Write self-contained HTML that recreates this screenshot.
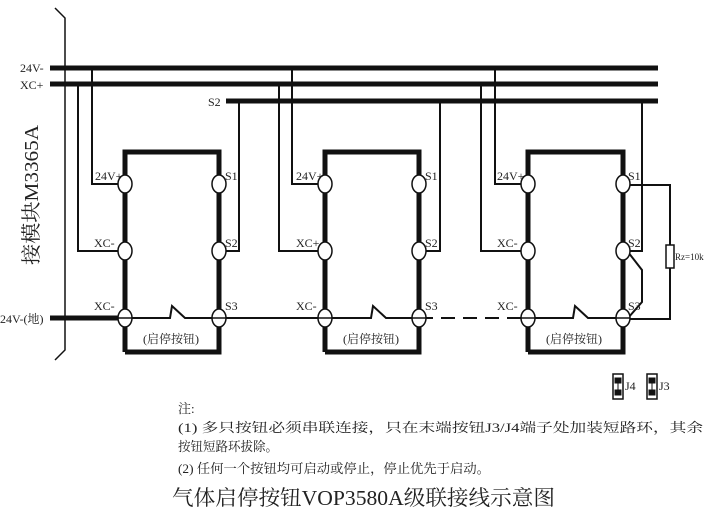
<!DOCTYPE html><html><head><meta charset="utf-8"><style>body{margin:0;background:#fff}svg{display:block}text{font-family:"Liberation Serif","Noto Serif CJK SC",serif;fill:#222}</style></head><body>
<svg width="724" height="531" viewBox="0 0 724 531" xmlns="http://www.w3.org/2000/svg">
<g stroke="#111" fill="none">
<path d="M55 8 L65 18 L65 350 L55 360" stroke-width="1.5"/>
<line x1="50" y1="68" x2="658" y2="68" stroke-width="5"/>
<line x1="50" y1="84" x2="658" y2="84" stroke-width="5"/>
<line x1="226" y1="101" x2="658" y2="101" stroke-width="5"/>
<line x1="50" y1="318" x2="125" y2="318" stroke-width="5"/>
<g stroke-width="2">
<path d="M92 68 V184 H125 M78 84 V251 H125 M239 101 V251 H219"/>
<path d="M292 68 V184 H325 M279 84 V251 H325 M440 101 V251 H419"/>
<path d="M495 68 V184 H528 M481 84 V251 H528 M642 101 V251 H623"/>
<path d="M125 318 H170 L172 306 L185 318 H325 H371 L373 306 L386 318 H419"/>
<path d="M528 318 H573 L575 306 L588 318 H623"/>
<path d="M419 318 H528" stroke-dasharray="14 8"/>
<path d="M623 185 H670 V245 M670 268 V319 H623"/>
<path d="M628 252 L642 270 V302 L628 318"/>
</g>
<rect x="666" y="245" width="8" height="23" stroke-width="1.5" fill="#fff"/>
<g stroke-width="5">
<path d="M125 352 V152 H219 V352 H125"/>
<path d="M325 352 V152 H419 V352 H325"/>
<path d="M528 352 V152 H623 V352 H528"/>
</g>
<g fill="#fff" stroke-width="1.5">
<ellipse cx="125" cy="184" rx="7" ry="9"/><ellipse cx="125" cy="251" rx="7" ry="9"/><ellipse cx="125" cy="318" rx="7" ry="9"/>
<ellipse cx="219" cy="184" rx="7" ry="9"/><ellipse cx="219" cy="251" rx="7" ry="9"/><ellipse cx="219" cy="318" rx="7" ry="9"/>
<ellipse cx="325" cy="184" rx="7" ry="9"/><ellipse cx="325" cy="251" rx="7" ry="9"/><ellipse cx="325" cy="318" rx="7" ry="9"/>
<ellipse cx="419" cy="184" rx="7" ry="9"/><ellipse cx="419" cy="251" rx="7" ry="9"/><ellipse cx="419" cy="318" rx="7" ry="9"/>
<ellipse cx="528" cy="184" rx="7" ry="9"/><ellipse cx="528" cy="251" rx="7" ry="9"/><ellipse cx="528" cy="318" rx="7" ry="9"/>
<ellipse cx="623" cy="184" rx="7" ry="9"/><ellipse cx="623" cy="251" rx="7" ry="9"/><ellipse cx="623" cy="318" rx="7" ry="9"/>
</g>
<g stroke-width="1.5"><line x1="118" y1="318" x2="132" y2="318"/><line x1="212" y1="318" x2="226" y2="318"/><line x1="318" y1="318" x2="332" y2="318"/><line x1="412" y1="318" x2="426" y2="318"/><line x1="521" y1="318" x2="535" y2="318"/><line x1="616" y1="318" x2="630" y2="318"/></g>
<rect x="613" y="374" width="10" height="25" stroke-width="1.5"/>
<rect x="615" y="378" width="6" height="5" fill="#111"/><rect x="615" y="390" width="6" height="5" fill="#111"/><line x1="618" y1="383" x2="618" y2="390"/>
<rect x="647" y="374" width="10" height="25" stroke-width="1.5"/>
<rect x="649" y="378" width="6" height="5" fill="#111"/><rect x="649" y="390" width="6" height="5" fill="#111"/><line x1="652" y1="383" x2="652" y2="390"/>
</g>
<g font-size="12">
<text x="20" y="72">24V-</text><text x="20" y="89">XC+</text><text x="208" y="106">S2</text>
<text x="0" y="323">24V-(地)</text>
<text x="95" y="180">24V+</text><text x="94" y="247">XC-</text><text x="94" y="310">XC-</text>
<text x="225" y="180">S1</text><text x="225" y="247">S2</text><text x="225" y="310">S3</text>
<text x="296" y="180">24V+</text><text x="296" y="247">XC+</text><text x="296" y="310">XC-</text>
<text x="425" y="180">S1</text><text x="425" y="247">S2</text><text x="425" y="310">S3</text>
<text x="497" y="180">24V+</text><text x="497" y="247">XC-</text><text x="497" y="310">XC-</text>
<text x="628" y="180">S1</text><text x="628" y="247">S2</text><text x="628" y="310">S3</text>
<text x="143" y="343">(启停按钮)</text><text x="343" y="343">(启停按钮)</text><text x="546" y="343">(启停按钮)</text>
<text x="625" y="390">J4</text><text x="659" y="390">J3</text>
<text x="675" y="260" font-size="9">Rz=10k</text>
<text x="178" y="413" font-size="13">注:</text>
<text x="178" y="432" font-size="13" textLength="525" lengthAdjust="spacingAndGlyphs">(1) 多只按钮必须串联连接，只在末端按钮J3/J4端子处加装短路环，其余</text>
<text x="178" y="451" font-size="13" textLength="100" lengthAdjust="spacingAndGlyphs">按钮短路环拔除。</text>
<text x="178" y="473" font-size="13" textLength="312" lengthAdjust="spacingAndGlyphs">(2) 任何一个按钮均可启动或停止，停止优先于启动。</text>
</g>
<text x="172" y="505" font-size="21" textLength="383" lengthAdjust="spacingAndGlyphs">气体启停按钮VOP3580A级联接线示意图</text>
<text transform="translate(38,265) rotate(-90)" font-size="20" textLength="140" lengthAdjust="spacingAndGlyphs">接模块M3365A</text>
</svg></body></html>
